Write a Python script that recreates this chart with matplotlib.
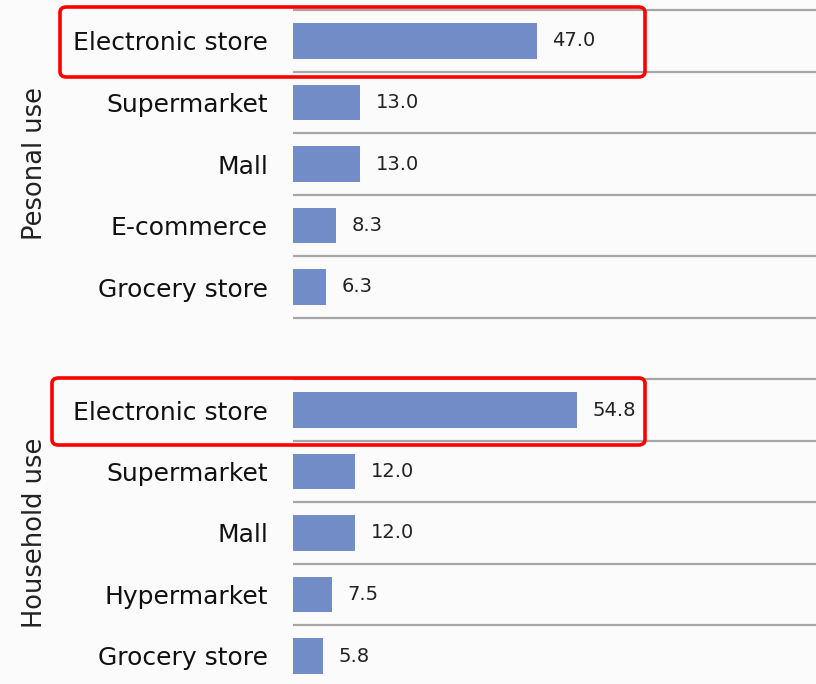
import numpy as np
import matplotlib.pyplot as plt
from matplotlib.patches import FancyBboxPatch

groups = ["Pesonal use", "Household use"]
personal_labels = ["Electronic store", "Supermarket", "Mall", "E-commerce", "Grocery store"]
personal_values = [47.0, 13.0, 13.0, 8.3, 6.3]
household_labels = ["Electronic store", "Supermarket", "Mall", "Hypermarket", "Grocery store"]
household_values = [54.8, 12.0, 12.0, 7.5, 5.8]

bar_color = "#728cc8"
line_color = "#a6a6a6"

W, H, dpi = 816, 684, 100
fig = plt.figure(figsize=(W / dpi, H / dpi), dpi=dpi)
fig.patch.set_facecolor("#fbfbfb")

left = 293 / W
ax = fig.add_axes([left, 0, 1 - left, 1])
ax.set_facecolor("none")

# row positions: group 1 at 0..4, empty row 5, group 2 at 6..10
pos1 = np.arange(5)
pos2 = np.arange(5) + 6
labels = personal_labels + household_labels
values = personal_values + household_values
pos = np.concatenate([pos1, pos2])

ax.barh(pos, values, height=0.58, color=bar_color)
for p, v in zip(pos, values):
    ax.text(v + 3.0, p, f"{v:.1f}", va="center", ha="left", fontsize=14,
            color="#222222")

# separators between rows
for grp in (pos1, pos2):
    for b in np.append(grp - 0.5, grp[-1] + 0.5):
        ax.axhline(b, color=line_color, lw=1.6, zorder=0)

pitch = 61.5
ax.set_ylim((H - 41) / pitch, -41 / pitch)
ax.set_xlim(0, 523 / 5.19)

ax.set_yticks(pos)
ax.set_yticklabels(labels, fontsize=18, color="#111111")
ax.tick_params(axis="y", length=0, pad=18)
ax.set_xticks([])
for s in ax.spines.values():
    s.set_visible(False)

# group labels
for g, grp in zip(groups, (pos1, pos2)):
    y = 1 - (41 + pitch * grp.mean()) / H
    fig.text(35 / W, y, g, rotation=90, ha="center", va="center",
             fontsize=18.5, color="#222222")

# red highlight boxes around the top row of each group
for x0, y0, x1, y1 in [(60, 7, 645, 77), (52, 378, 645, 445)]:
    box = FancyBboxPatch((x0 / W, 1 - y1 / H), (x1 - x0) / W, (y1 - y0) / H,
                         boxstyle="round,pad=0,rounding_size=0.008",
                         transform=fig.transFigure, fill=False,
                         edgecolor="#ff0000", lw=2.6, zorder=5)
    fig.patches.append(box)

fig.savefig("out.png", dpi=dpi, facecolor=fig.get_facecolor())
